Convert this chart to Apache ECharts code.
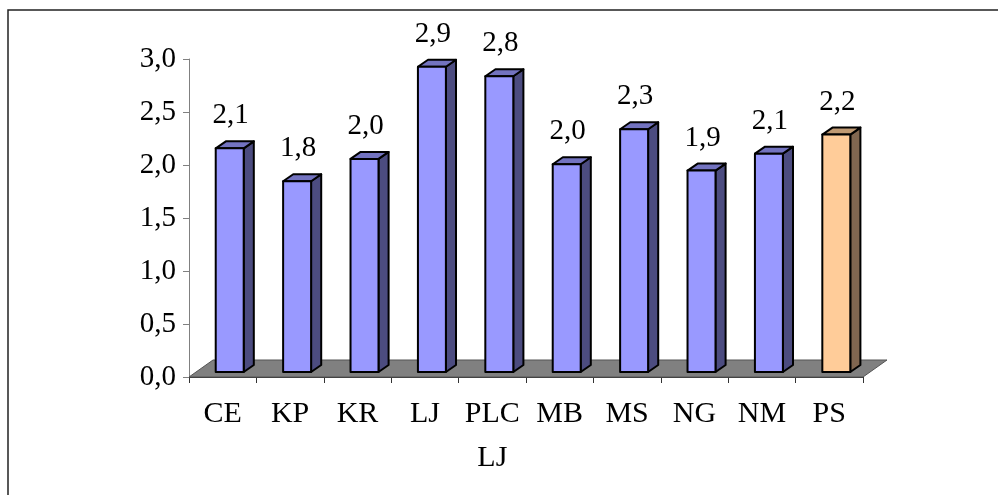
<!DOCTYPE html>
<html>
<head>
<meta charset="utf-8">
<script src="https://cdn.jsdelivr.net/npm/echarts@6/dist/echarts.min.js"></script>
<style>
  html, body { margin: 0; padding: 0; background: #fff; }
  #chart { width: 998px; height: 495px; }
</style>
</head>
<body>
<div id="chart"></div>
<script>
  // chart data
  var categories = ['CE', 'KP', 'KR', 'LJ', 'PLC\nLJ', 'MB', 'MS', 'NG', 'NM', 'PS'];
  var values = [2.11, 1.80, 2.01, 2.88, 2.79, 1.96, 2.29, 1.90, 2.06, 2.24];
  var highlight = ['PS'];
  var yTicks = { min: 0, max: 3, interval: 0.5 };

  var FONT = '"Liberation Serif", "Times New Roman", serif';
  var blue = { front: '#9999FF', top: '#7373C0', side: '#4C4C80' };
  var peach = { front: '#FFCC99', top: '#C09A73', side: '#806650' };

  function fmt(v) {
    return v.toFixed(1).replace('.', ',');
  }

  // 3d column: front face, top and right side
  function renderBar(params, api) {
    var idx = api.value(0);
    var val = api.value(1);
    var base = api.coord([idx, 0]);
    var top = api.coord([idx, val]);
    var bw = api.size([1, 0])[0];
    var ox = bw * 0.104, oy = 5;        // bar sits a bit back on the floor
    var w = bw * 0.415;                 // front width
    var dx = bw * 0.15, dy = 7;         // depth
    var x0 = base[0] + ox - w / 2;
    var x1 = x0 + w;
    var yb = base[1] - oy;
    var yt = top[1] - oy;
    var c = highlight.indexOf(categories[idx]) >= 0 ? peach : blue;
    var stroke = { stroke: '#000', lineWidth: 2, lineJoin: 'round' };
    return {
      type: 'group',
      children: [
        {
          type: 'polygon',
          shape: { points: [[x1, yb], [x1 + dx, yb - dy], [x1 + dx, yt - dy], [x1, yt]] },
          style: Object.assign({ fill: c.side }, stroke)
        },
        {
          type: 'polygon',
          shape: { points: [[x0, yt], [x0 + dx, yt - dy], [x1 + dx, yt - dy], [x1, yt]] },
          style: Object.assign({ fill: c.top }, stroke)
        },
        {
          type: 'rect',
          shape: { x: x0, y: yt, width: w, height: yb - yt },
          style: Object.assign({ fill: c.front }, stroke)
        },
        {
          type: 'text',
          style: {
            text: fmt(val),
            x: (x0 + x1) / 2 + 1,
            y: yt - dy - 11,
            align: 'center',
            verticalAlign: 'bottom',
            fontSize: 29,
            fontFamily: FONT,
            fill: '#000'
          }
        }
      ]
    };
  }

  // grey floor under the columns
  function renderFloor(params, api) {
    var bw = api.size([1, 0])[0];
    var first = api.coord([0, 0]);
    var last = api.coord([categories.length - 1, 0]);
    var left = first[0] - bw / 2, right = last[0] + bw / 2, y = first[1];
    var dx = bw * 0.356, dy = 17;
    return {
      type: 'polygon',
      shape: { points: [[left, y], [left + dx, y - dy], [right + dx, y - dy], [right, y]] },
      style: { fill: '#808080', stroke: '#555', lineWidth: 1 }
    };
  }

  var myChart = echarts.init(document.getElementById('chart'));
  myChart.setOption({
    animation: false,
    backgroundColor: '#fff',
    graphic: [{
      type: 'rect',
      shape: { x: 8, y: 10, width: 1100, height: 600 },
      style: { fill: 'none', stroke: '#222', lineWidth: 1.5 },
      z: 100
    }],
    grid: { left: 189, right: 135, top: 59, bottom: 118 },
    xAxis: {
      type: 'category',
      data: categories,
      axisLine: { lineStyle: { color: '#333', width: 1 } },
      axisTick: { show: true, length: 6, lineStyle: { color: '#333' } },
      axisLabel: {
        color: '#000',
        fontSize: 30,
        fontFamily: FONT,
        margin: 15,
        lineHeight: 44,
        interval: 0
      },
      splitLine: { show: false }
    },
    yAxis: {
      type: 'value',
      min: yTicks.min,
      max: yTicks.max,
      interval: yTicks.interval,
      axisLine: { show: true, lineStyle: { color: '#808080', width: 1 } },
      axisTick: { show: true, length: 6, lineStyle: { color: '#808080' } },
      axisLabel: {
        color: '#000',
        fontSize: 29,
        fontFamily: FONT,
        margin: 13,
        formatter: fmt
      },
      splitLine: { show: false }
    },
    series: [
      {
        type: 'custom',
        renderItem: renderFloor,
        data: [[0, 0]],
        clip: false,
        silent: true,
        z: 1
      },
      {
        type: 'custom',
        renderItem: renderBar,
        data: values.map(function (v, i) { return [i, v]; }),
        clip: false,
        z: 3
      }
    ]
  });
</script>
</body>
</html>
